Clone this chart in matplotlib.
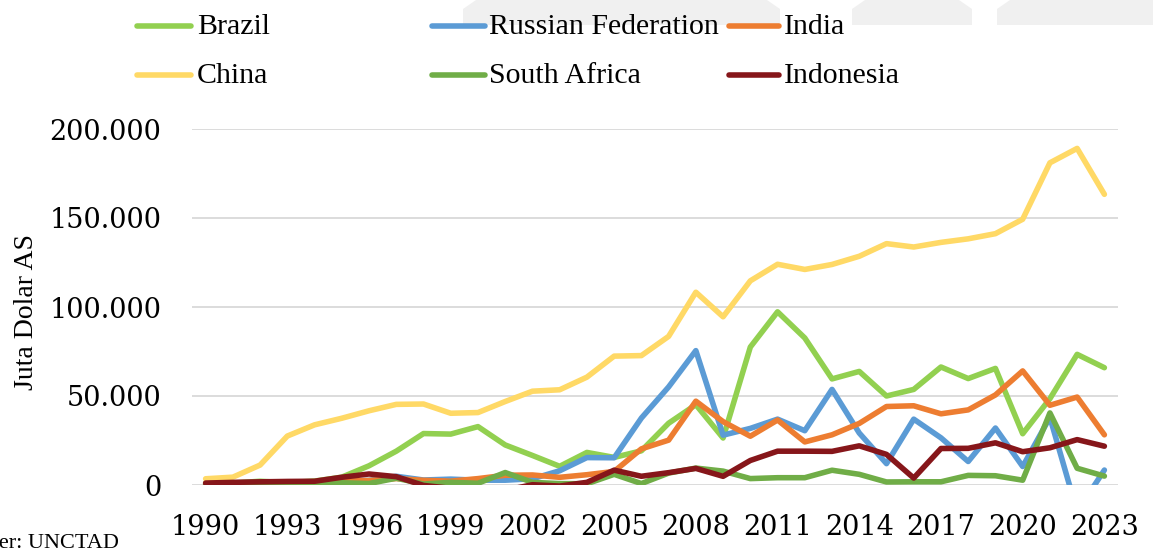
import matplotlib
matplotlib.use("Agg")
import matplotlib.pyplot as plt
from matplotlib.lines import Line2D
from matplotlib.patches import Polygon
import numpy as np

# ---------------- data (million USD) ----------------
years = list(range(1990, 2024))
tick_years = list(range(1990, 2024, 3))

brazil = [1.0, 1.1, 2.1, 1.3, 2.2, 4.4, 10.8, 19.0, 28.9, 28.6, 32.8, 22.5, 16.6, 10.5,
          18.3, 15.5, 19.2, 34.7, 45.1, 26.4, 77.5, 97.3, 82.6, 59.6, 63.8, 50.0, 53.7,
          66.3, 59.8, 65.5, 28.8, 48.5, 73.4, 65.9]
russia = [np.nan, np.nan, 1.2, 1.2, 0.7, 2.1, 2.6, 4.9, 2.8, 3.3, 2.7, 2.7, 3.5, 8.0,
          15.4, 15.3, 37.6, 55.1, 75.5, 28.0, 31.8, 37.0, 30.5, 53.7, 29.2, 12.0, 37.0,
          26.5, 13.2, 32.0, 10.4, 38.0, -15.0, 8.4]
india = [0.24, 0.07, 0.28, 0.55, 0.97, 2.15, 2.53, 3.62, 2.63, 2.17, 3.59, 5.48, 5.63,
         4.32, 5.78, 7.62, 20.3, 25.2, 47.1, 35.6, 27.4, 36.5, 24.2, 28.2, 34.6, 44.1,
         44.5, 40.0, 42.2, 50.6, 64.1, 44.8, 49.4, 28.2]
china = [3.5, 4.4, 11.2, 27.5, 33.8, 37.5, 41.7, 45.3, 45.5, 40.3, 40.7, 46.9, 52.7,
         53.5, 60.6, 72.4, 72.7, 83.5, 108.3, 94.5, 114.7, 124.0, 121.1, 123.9, 128.5,
         135.6, 133.7, 136.3, 138.3, 141.2, 149.3, 181.0, 189.1, 163.3]
south_africa = [-0.08, 0.25, 0.0, 0.01, 0.37, 1.25, 0.82, 3.82, 0.55, 1.5, 0.97, 7.0,
                1.48, 0.78, 0.70, 6.0, 0.8, 6.7, 9.5, 7.8, 3.6, 4.1, 4.1, 8.3, 6.0, 1.7,
                1.8, 1.8, 5.4, 5.2, 2.7, 40.5, 9.4, 5.0]
indonesia = [1.09, 1.48, 1.78, 2.0, 2.11, 4.35, 6.19, 4.68, -0.24, -1.87, -4.55, -2.98,
             0.15, -0.6, 1.5, 8.34, 4.91, 6.93, 9.32, 4.88, 13.77, 19.0, 19.0, 18.9,
             22.0, 17.2, 3.9, 20.5, 20.6, 23.7, 18.7, 20.9, 25.5, 21.8]

series_names = ["Brazil", "Russian Federation", "India", "China", "South Africa", "Indonesia"]
series_values = [brazil, russia, india, china, south_africa, indonesia]
series_colors = ["#92D050", "#5B9BD5", "#ED7D31", "#FFD966", "#70AD47", "#86161A"]

# ---------------- figure ----------------
W, H = 1153, 548
fig = plt.figure(figsize=(W / 100, H / 100), dpi=100)

def fx(px):
    return px / W

def fy(py):
    return 1 - py / H

# faint background shapes at top
for pts in ([(463, 25), (463, 9), (476, 0), (767, 0), (780, 9), (780, 25)],
            [(852, 25), (852, 9), (865, 0), (959, 0), (972, 9), (972, 25)],
            [(997, 25), (997, 9), (1010, 0), (1153, 0), (1153, 25)]):
    fig.add_artist(Polygon([(fx(a), fy(b)) for a, b in pts], closed=True,
                           transform=fig.transFigure, facecolor="#F0F0F0",
                           edgecolor="none", zorder=0))

ax = fig.add_axes([fx(192), fy(485), fx(1118) - fx(192), fy(129) - fy(485)])
ax.set_facecolor("none")

x = np.arange(len(years))
for name, vals, col in zip(series_names, series_values, series_colors):
    ax.plot(x, np.array(vals) * 1000, color=col, lw=4.0, solid_joinstyle="round",
            solid_capstyle="round", label=name, zorder=3)

ax.set_xlim(-0.5, len(years) - 0.5)
ax.set_ylim(0, 200000)
ax.set_yticks([0, 50000, 100000, 150000, 200000])
ax.set_yticklabels(["0", "50.000", "100.000", "150.000", "200.000"])
ax.set_xticks([years.index(y) for y in tick_years])
ax.set_xticklabels([str(y) for y in tick_years])

for lab in ax.get_yticklabels():
    lab.set_fontfamily("DejaVu Serif")
    lab.set_fontsize(19.5)
for lab in ax.get_xticklabels():
    lab.set_fontfamily("DejaVu Serif")
    lab.set_fontsize(19.5)
ax.tick_params(axis="both", length=0, colors="black")
ax.tick_params(axis="y", pad=22)
ax.tick_params(axis="x", pad=21)

for s in ax.spines.values():
    s.set_visible(False)
ax.yaxis.grid(True, color="#D9D9D9", lw=1.3)
ax.set_axisbelow(True)

fig.text(fx(27), fy(312), "Juta Dolar AS", rotation=90, ha="center", va="center",
         family="Liberation Serif", fontsize=20)

# manual legend (Excel-style equal columns)
cols = [(137, 191, 197), (432, 485, 489), (729, 779, 784)]
rows = [26, 75]
order = [[0, 1, 2], [3, 4, 5]]
for r, row_idx in enumerate(order):
    for c, si in enumerate(row_idx):
        x0, x1, xt = cols[c]
        yy = rows[r]
        fig.add_artist(Line2D([fx(x0), fx(x1)], [fy(yy), fy(yy)], transform=fig.transFigure,
                              color=series_colors[si], lw=4.0, solid_capstyle="round"))
        fig.text(fx(xt), fy(yy + 1), series_names[si], ha="left", va="center",
                 family="Liberation Serif", fontsize=21.5)

fig.text(fx(119), fy(534), "Sumber: UNCTAD", ha="right", va="top",
         family="Liberation Serif", fontsize=16)

fig.savefig("out.png", dpi=100)
